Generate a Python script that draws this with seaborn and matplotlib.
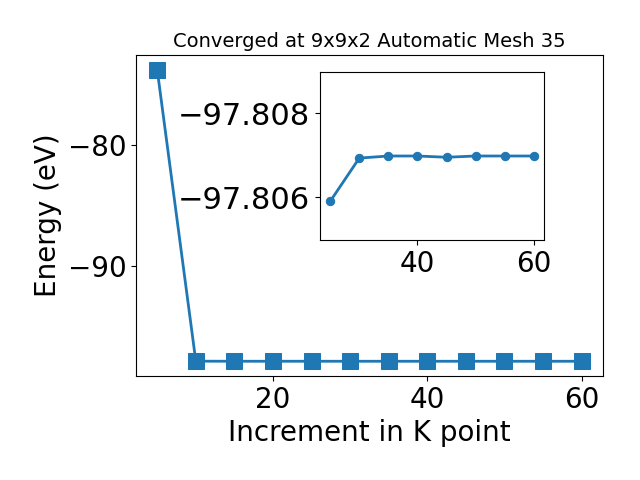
import numpy as np
import pandas as pd
import matplotlib
matplotlib.use('Agg')
import matplotlib.pyplot as plt
import seaborn as sns

# K point increments and converged total energies (eV)
kpoints = [5, 10, 15, 20, 25, 30, 35, 40, 45, 50, 55, 60]
energy = [-73.8, -97.80, -97.806, -97.806, -97.8059, -97.80693, -97.80698,
          -97.80698, -97.80695, -97.80698, -97.80698, -97.80698]

# zoomed part for the inset
inset_k = kpoints[4:]
inset_e = energy[4:]

df = pd.DataFrame({'k': kpoints, 'E': energy})
df_in = pd.DataFrame({'k': inset_k, 'E': inset_e})

fig, ax = plt.subplots(figsize=(6.4, 4.8), dpi=100)
fig.subplots_adjust(left=0.2125, right=0.942, top=0.885, bottom=0.217)

sns.lineplot(data=df, x='k', y='E', ax=ax, color='#1f77b4', linewidth=2,
             marker='s', markersize=11, markeredgecolor='#1f77b4')
ax.set_title('Converged at 9x9x2 Automatic Mesh 35', fontsize=14)
ax.set_xlabel('Increment in K point', fontsize=20)
ax.set_ylabel('Energy (eV)', fontsize=20)
ax.tick_params(labelsize=20)
ax.set_yticks([-80, -90])

# inset
axin = fig.add_axes([0.5, 0.5, 0.35, 0.35])
sns.lineplot(data=df_in, x='k', y='E', ax=axin, color='#1f77b4', linewidth=2,
             marker='o', markersize=6, markeredgecolor='#1f77b4')
axin.set_ylim(-97.80498, -97.80898)  # inverted, as in the original
axin.set_yticks([-97.808, -97.806])
axin.ticklabel_format(axis='y', useOffset=False)
axin.set_xticks([40, 60])
axin.set_xlabel('')
axin.set_ylabel('')
axin.tick_params(axis='x', labelsize=20)
axin.tick_params(axis='y', labelsize=22)

fig.savefig('out.png', dpi=100)
